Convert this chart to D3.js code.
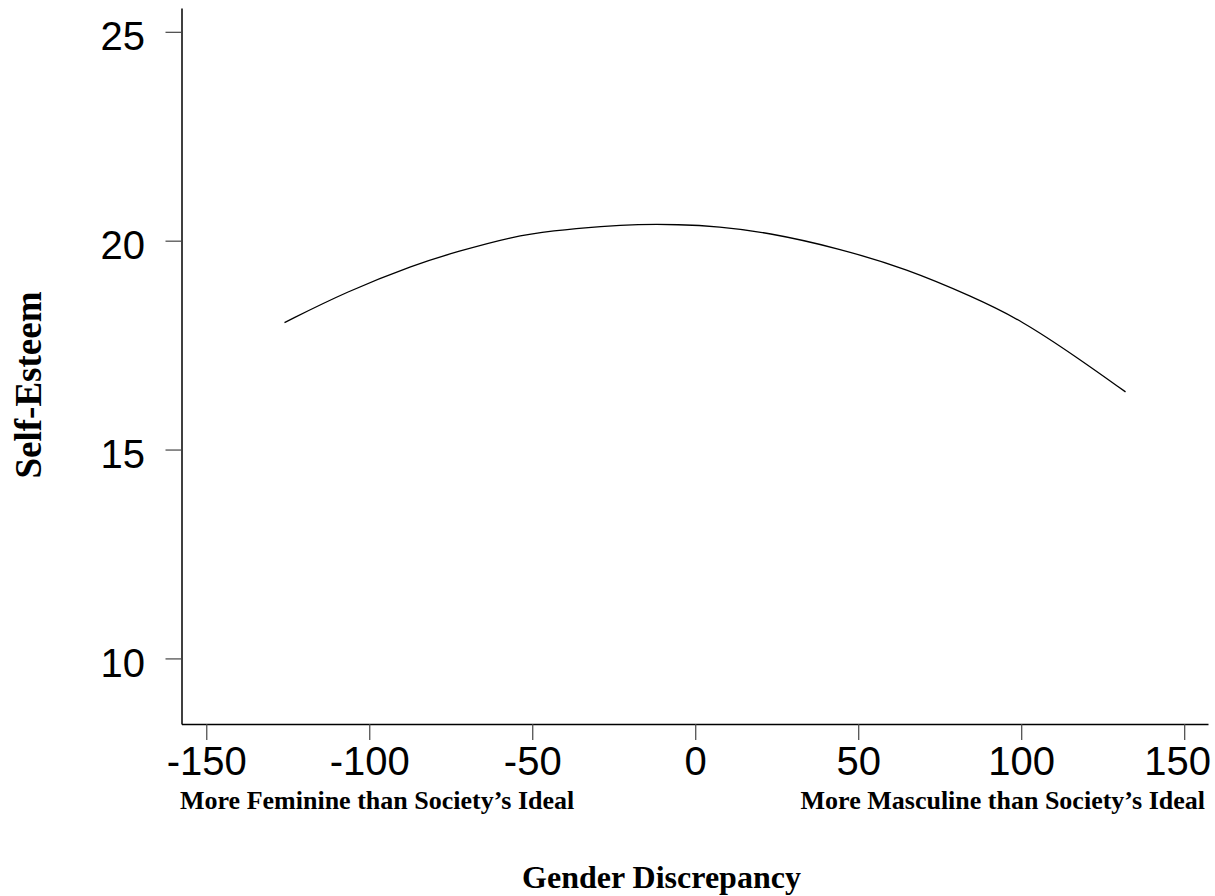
<!DOCTYPE html>
<html>
<head>
<meta charset="utf-8">
<script src="https://cdn.jsdelivr.net/npm/d3@7"></script>
<style>
  body { margin: 0; background: #fff; }
  .tick text { font-family: "Liberation Sans", Arial, sans-serif; }
  .lbl { font-family: "Liberation Serif", "Times New Roman", serif; font-weight: bold; fill: #000; }
</style>
</head>
<body>
<svg id="chart"></svg>
<script>
// values
const discrepancy = [-126, -107, -86, -73, -56, -44, -28, -18, -5, 7, 22, 44, 65, 85, 100, 118, 132];
const selfEsteem = [18.04, 18.78, 19.43, 19.74, 20.10, 20.24, 20.35, 20.39, 20.39, 20.34, 20.20, 19.82, 19.32, 18.66, 18.10, 17.16, 16.38];
const xTicks = [-150, -100, -50, 0, 50, 100, 150];
const yTicks = [10, 15, 20, 25];

let width = 1215;
let height = 896;

let svg = d3.select("#chart").attr("width", width).attr("height", height);

let x = d3.scaleLinear().domain([-157.6, 157.3]).range([181.5, 1208]);
let y = d3.scaleLinear().domain([8.43, 25.57]).range([724, 8]);

// Y axis
let gy = svg.append("g")
  .attr("transform", "translate(181.5,0)")
  .call(d3.axisLeft(y).tickValues(yTicks).tickSize(16).tickSizeOuter(0).tickPadding(20.5)
    .tickFormat(d => String(d)));
gy.selectAll(".tick text").attr("font-size", 40).attr("dy", "0.45em").attr("fill", "#000");

// X axis
let gx = svg.append("g")
  .attr("transform", "translate(0,724)")
  .call(d3.axisBottom(x).tickValues(xTicks).tickSize(16).tickSizeOuter(0).tickPadding(6.4)
    .tickFormat(d => String(d)));
gx.selectAll(".tick text").attr("font-size", 40).attr("fill", "#000");
// keep the last label inside the page
gx.selectAll(".tick text").filter(d => d === 150).attr("dx", -7);

svg.selectAll(".domain").attr("stroke", "#000").attr("stroke-width", 1.5);
svg.selectAll(".tick line").attr("stroke", "#444").attr("stroke-width", 1.2);

// fitted curve
let line = d3.line()
  .x((d, i) => x(discrepancy[i]))
  .y(d => y(d))
  .curve(d3.curveBasis);

svg.append("path")
  .datum(selfEsteem)
  .attr("d", line)
  .attr("fill", "none")
  .attr("stroke", "#000")
  .attr("stroke-width", 1.3);

// labels
svg.append("text").attr("class", "lbl")
  .attr("x", 180).attr("y", 809).attr("font-size", 26)
  .text("More Feminine than Society\u2019s Ideal");

svg.append("text").attr("class", "lbl")
  .attr("x", 1205).attr("y", 809).attr("font-size", 26).attr("text-anchor", "end")
  .text("More Masculine than Society\u2019s Ideal");

svg.append("text").attr("class", "lbl")
  .attr("x", 661.5).attr("y", 888).attr("font-size", 32).attr("text-anchor", "middle")
  .text("Gender Discrepancy");

svg.append("text").attr("class", "lbl")
  .attr("transform", "translate(41,385) rotate(-90)")
  .attr("font-size", 37).attr("text-anchor", "middle")
  .text("Self-Esteem");
</script>
</body>
</html>
